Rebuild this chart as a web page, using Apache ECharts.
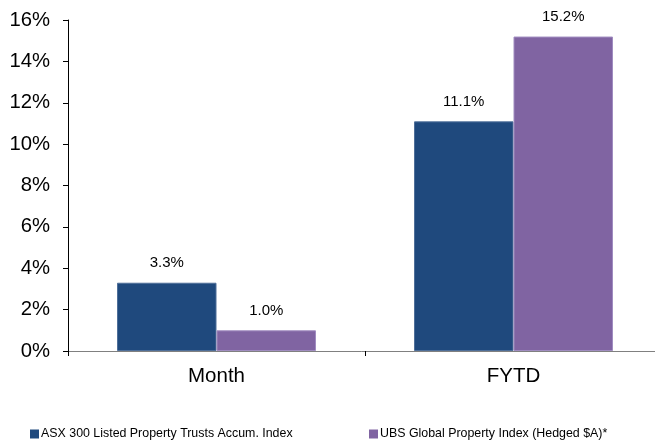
<!DOCTYPE html>
<html>
<head>
<meta charset="utf-8">
<script src="https://cdn.jsdelivr.net/npm/echarts@6/dist/echarts.min.js"></script>
<style>
  html, body { margin: 0; padding: 0; background: #fff; }
  #chart { width: 655px; height: 443px; }
</style>
</head>
<body>
<div id="chart"></div>
<script>
const categories = ["Month", "FYTD"];
const asxValues = [3.3, 11.1];
const ubsValues = [1.0, 15.2];
const seriesNames = [
  "ASX 300 Listed Property Trusts Accum. Index",
  "UBS Global Property Index (Hedged $A)*",
];
const colors = ["#1F497D", "#8064A2"];

const font = "Arial, 'Liberation Sans', sans-serif";

const chart = echarts.init(document.getElementById("chart"));

function barSeries(name, data, color, border) {
  return {
    name: name,
    type: "bar",
    data: data,
    barGap: "0%",
    barCategoryGap: "33%",
    itemStyle: { color: color, borderColor: border, borderWidth: 1 },
    label: {
      show: true,
      position: "top",
      distance: 12,
      color: "#000",
      fontFamily: font,
      fontSize: 15,
      formatter: (p) => p.value.toFixed(1) + "%",
    },
  };
}

function legendAt(name, left) {
  return {
    data: [name],
    left: left,
    top: 428,
    padding: 0,
    icon: "rect",
    itemWidth: 9,
    itemHeight: 9,
    itemGap: 2,
    itemStyle: { borderWidth: 0 },
    textStyle: { fontFamily: font, fontSize: 12.4, color: "#000", padding: [0, 0, 0, -3] },
  };
}

chart.setOption({
  animation: false,
  textStyle: { fontFamily: font },
  // the category axis runs a little past the right edge of the canvas
  grid: { left: 68, width: 594, top: 20, height: 331, outerBoundsMode: "none" },
  legend: [legendAt(seriesNames[0], 30), legendAt(seriesNames[1], 369)],
  xAxis: {
    type: "category",
    data: categories,
    axisLine: { lineStyle: { color: "#808080", width: 1 } },
    axisTick: { show: true, alignWithLabel: false, length: 5, lineStyle: { color: "#000" } },
    axisLabel: { color: "#000", fontFamily: font, fontSize: 20.5, margin: 15 },
  },
  yAxis: {
    type: "value",
    min: 0,
    max: 16,
    interval: 2,
    splitLine: { show: false },
    axisLine: { show: true, lineStyle: { color: "#000", width: 1 } },
    axisTick: { show: true, length: 5, lineStyle: { color: "#000" } },
    axisLabel: {
      color: "#000",
      fontFamily: font,
      fontSize: 20.3,
      margin: 18,
      formatter: (v) => v + "%",
    },
  },
  series: [
    barSeries(seriesNames[0], asxValues, colors[0], "#4F6F99"),
    barSeries(seriesNames[1], ubsValues, colors[1], "#A08CC0"),
  ],
});
</script>
</body>
</html>
